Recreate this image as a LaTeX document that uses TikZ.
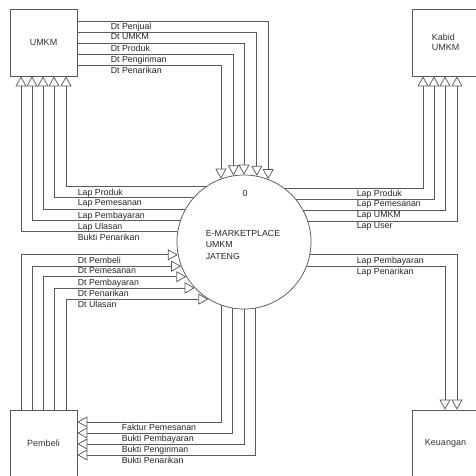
\documentclass[tikz,border=0pt]{standalone}
\usepackage{fontspec}
\setmainfont{Liberation Sans}
\usetikzlibrary{arrows.meta}
\tikzset{
  flow/.style={-{Triangle[open, length=10pt, width=11pt]}, line width=0.75pt, draw=black!65},
  entbox/.style={draw=black!65, line width=0.75pt, minimum width=67pt, minimum height=67pt, inner sep=0pt, align=left, font=\fontsize{9}{10}\selectfont, text=black!80},
  procnode/.style={draw=black!65, circle, line width=0.75pt, minimum size=134pt, inner sep=0pt},
  lbl/.style={anchor=north west, inner sep=0.6pt, yshift=-0.9pt, font=\fontsize{8.8}{10}\selectfont, text=black!85}
}

\begin{document}
\begin{tikzpicture}[x=1pt, y=-1pt]
  \useasboundingbox (0,0) rectangle (476,475);
  % external entities
  \node[entbox] (umkm) at (43.5,42.5) {UMKM};
  \node[entbox] (kabid) at (445.5,42.5) {Kabid\\UMKM};
  \node[entbox] (pembeli) at (43.5,443.5) {Pembeli};
  \node[entbox] (keu) at (445.5,443.5) {Keuangan};
  % process
  \node[procnode] (proc) at (244,242) {};
  \node[lbl, anchor=center] (pnum) at (245,193) {0};
  \node[lbl, anchor=west, align=left, font=\fontsize{8.8}{11.5}\selectfont] (pname) at (205,244) {E-MARKETPLACE\\UMKM\\JATENG};

  % UMKM -> proses
  \draw[flow] (umkm.east |- 0,21) -| (proc.69.9);
  \draw[flow] (umkm.east |- 0,32) -| (proc.79.7);
  \draw[flow] (umkm.east |- 0,43) -| (proc.90);
  \draw[flow] (umkm.east |- 0,54) -| (proc.99.5);
  \draw[flow] (umkm.east |- 0,65) -| (proc.110.1);
  \node[lbl] (dtpenjual) at (110,21) {Dt Penjual};
  \node[lbl] (dtumkm) at (110,32) {Dt UMKM};
  \node[lbl] (dtproduk) at (110,43) {Dt Produk};
  \node[lbl] (dtkirim) at (110,54) {Dt Pengiriman};
  \node[lbl] (dttarikU) at (110,65) {Dt Penarikan};

  % proses -> UMKM
  \draw[flow] (proc.124.8) -| (umkm.south -| 66,0);
  \draw[flow] (proc.139) -| (umkm.south -| 54,0);
  \draw[flow] (proc.151.5) -| (umkm.south -| 43,0);
  \draw[flow] (proc.161.7) -| (umkm.south -| 32,0);
  \draw[flow] (proc.171.4) -| (umkm.south -| 21,0);
  \node[lbl] (lpprodU) at (77,187) {Lap Produk};
  \node[lbl] (lppesanU) at (77,198) {Lap Pemesanan};
  \node[lbl] (lpbayarU) at (77,210) {Lap Pembayaran};
  \node[lbl] (lpulasan) at (77,221) {Lap Ulasan};
  \node[lbl] (bkttarikU) at (77,232) {Bukti Penarikan};

  % proses -> Kabid
  \draw[flow] (proc.53.7) -| (kabid.south -| 423,0);
  \draw[flow] (proc.39.9) -| (kabid.south -| 434,0);
  \draw[flow] (proc.28.5) -| (kabid.south -| 445,0);
  \draw[flow] (proc.18.3) -| (kabid.south -| 457,0);
  \node[lbl] (lpprodK) at (356,188) {Lap Produk};
  \node[lbl] (lppesanK) at (356,199) {Lap Pemesanan};
  \node[lbl] (lpumkm) at (356,210) {Lap UMKM};
  \node[lbl] (lpuser) at (356,221) {Lap User};

  % proses -> Keuangan
  \draw[flow] (proc.-11.2) -| (keu.north -| 457,0);
  \draw[flow] (proc.-21) -| (keu.north -| 445,0);
  \node[lbl] (lpbayarK) at (356,255) {Lap Pembayaran};
  \node[lbl] (lptarikK) at (356,266) {Lap Penarikan};

  % Pembeli -> proses
  \draw[flow] (pembeli.north -| 21,0) |- (proc.191.2);
  \draw[flow] (pembeli.north -| 32,0) |- (proc.201);
  \draw[flow] (pembeli.north -| 43,0) |- (proc.211.5);
  \draw[flow] (pembeli.north -| 54,0) |- (proc.223.4);
  \draw[flow] (pembeli.north -| 66,0) |- (proc.238.3);
  \node[lbl] (dtpembeli) at (77,255) {Dt Pembeli};
  \node[lbl] (dtpesan) at (77,266) {Dt Pemesanan};
  \node[lbl] (dtbayar) at (77,277) {Dt Pembayaran};
  \node[lbl] (dttarikP) at (77,288) {Dt Penarikan};
  \node[lbl] (dtulasan) at (77,299) {Dt Ulasan};

  % proses -> Pembeli
  \draw[flow] (proc.250.8) |- (pembeli.east |- 0,422);
  \draw[flow] (proc.260.6) |- (pembeli.east |- 0,433);
  \draw[flow] (proc.270) |- (pembeli.east |- 0,444);
  \draw[flow] (proc.280.3) |- (pembeli.east |- 0,455);
  \node[lbl] (faktur) at (121,422) {Faktur Pemesanan};
  \node[lbl] (bktbayar) at (121,433) {Bukti Pembayaran};
  \node[lbl] (bktkirim) at (121,444) {Bukti Pengiriman};
  \node[lbl] (bkttarikP) at (121,455) {Bukti Penarikan};
\end{tikzpicture}
\end{document}
